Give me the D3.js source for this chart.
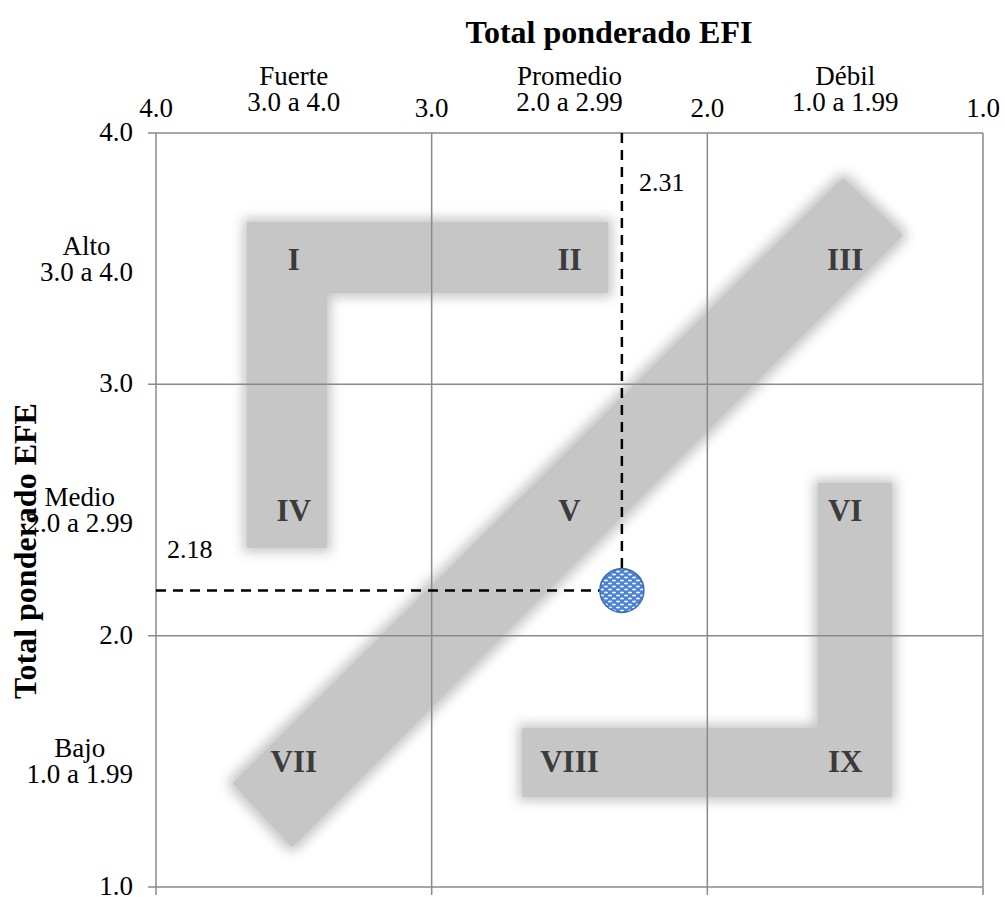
<!DOCTYPE html>
<html>
<head>
<meta charset="utf-8">
<script src="https://cdn.jsdelivr.net/npm/d3@7"></script>
<style>
  html, body { margin: 0; padding: 0; background: #fff; }
  svg { display: block; }
</style>
</head>
<body>
<svg id="chart" width="1005" height="897" font-family="'Liberation Serif', 'Times New Roman', serif"></svg>
<script>
// Matriz interna-externa (IE): EFI en el eje horizontal, EFE en el vertical
const axisTicks = [4, 3, 2, 1];
const bandMids = [3.5, 2.5, 1.5];
const efiBandNames = ["Fuerte", "Promedio", "Débil"];
const efiBandRanges = ["3.0 a 4.0", "2.0 a 2.99", "1.0 a 1.99"];
const efeBandNames = ["Alto", "Medio", "Bajo"];
const efeBandRanges = ["3.0 a 4.0", "2.0 a 2.99", "1.0 a 1.99"];
const cellLabels = ["I", "II", "III", "IV", "V", "VI", "VII", "VIII", "IX"];

// Zonas de estrategia (vértices en [EFI, EFE])
const zoneGrow = [[3.67, 3.646], [2.36, 3.646], [2.36, 3.363], [3.38, 3.363], [3.38, 2.349], [3.67, 2.349]];
const zoneHold = [[1.508, 3.821], [1.291, 3.594], [3.507, 1.159], [3.721, 1.413]];
const zoneHarvest = [[1.599, 2.607], [1.330, 2.607], [1.330, 1.358], [2.672, 1.358], [2.672, 1.632], [1.599, 1.632]];

// Resultado de la empresa
const efiScore = 2.31;
const efeScore = 2.18;

const svg = d3.select("#chart");
const x = d3.scaleLinear().domain([4, 1]).range([156, 983]);
const y = d3.scaleLinear().domain([1, 4]).range([887, 133]);

const defs = svg.append("defs");
const soft = defs.append("filter").attr("id", "soft")
  .attr("x", "-20%").attr("y", "-20%").attr("width", "140%").attr("height", "140%");
soft.append("feMorphology").attr("in", "SourceAlpha").attr("operator", "dilate").attr("radius", 4).attr("result", "d");
soft.append("feGaussianBlur").attr("in", "d").attr("stdDeviation", 6).attr("result", "b");
soft.append("feFlood").attr("flood-color", "#c6c6c6");
soft.append("feComposite").attr("in2", "b").attr("operator", "in").attr("result", "g");
const merge = soft.append("feMerge");
merge.append("feMergeNode").attr("in", "g");
merge.append("feMergeNode").attr("in", "SourceGraphic");

const pat = defs.append("pattern").attr("id", "dots")
  .attr("patternUnits", "userSpaceOnUse").attr("width", 8).attr("height", 6);
pat.append("rect").attr("width", 8).attr("height", 6).attr("fill", "#4a82d4");
pat.append("ellipse").attr("cx", 2).attr("cy", 1.5).attr("rx", 2.2).attr("ry", 1).attr("fill", "#eef3fc");
pat.append("ellipse").attr("cx", 6).attr("cy", 4.5).attr("rx", 2.2).attr("ry", 1).attr("fill", "#eef3fc");

// Zonas sombreadas
const line = d3.line().x(d => x(d[0])).y(d => y(d[1])).curve(d3.curveLinearClosed);
svg.append("g").selectAll("path")
  .data([zoneGrow, zoneHold, zoneHarvest])
  .join("path")
  .attr("d", line)
  .attr("fill", "#c6c6c6")
  .attr("filter", "url(#soft)");

// Cuadrícula y marco
const grid = svg.append("g").attr("stroke", "#8a8a8a").attr("stroke-width", 1.5);
grid.selectAll("line.v").data(axisTicks).join("line")
  .attr("x1", d => x(d)).attr("x2", d => x(d))
  .attr("y1", y(4)).attr("y2", y(1) + 8);
grid.selectAll("line.h").data(axisTicks).join("line")
  .attr("y1", d => y(d)).attr("y2", d => y(d))
  .attr("x1", x(4) - 8).attr("x2", x(1));

// Etiquetas de celdas
const cells = [];
bandMids.forEach((ey, r) => bandMids.forEach((ex, c) => cells.push({ ex, ey, label: cellLabels[r * 3 + c] })));
svg.append("g").selectAll("text").data(cells).join("text")
  .attr("x", d => x(d.ex)).attr("y", d => y(d.ey) + 11)
  .attr("text-anchor", "middle")
  .attr("font-size", 31).attr("font-weight", "bold").attr("fill", "#3b3b3b")
  .text(d => d.label);

// Eje superior (EFI)
const topAxis = svg.append("g").attr("font-size", 27).attr("text-anchor", "middle").attr("fill", "#000");
topAxis.selectAll("text.t").data(axisTicks).join("text").attr("class", "t")
  .attr("x", d => x(d)).attr("y", 117).text(d => d.toFixed(1));
topAxis.selectAll("text.n").data(bandMids).join("text").attr("class", "n")
  .attr("x", d => x(d)).attr("y", 85).text((d, i) => efiBandNames[i]);
topAxis.selectAll("text.r").data(bandMids).join("text").attr("class", "r")
  .attr("x", d => x(d)).attr("y", 111).text((d, i) => efiBandRanges[i]);

// Eje izquierdo (EFE): valores alineados a la derecha, rangos en bloque centrado
const leftAxis = svg.append("g").attr("font-size", 27).attr("fill", "#000");
leftAxis.selectAll("text.t").data(axisTicks).join("text").attr("class", "t")
  .attr("text-anchor", "end")
  .attr("x", 133).attr("y", d => y(d) + 8).text(d => d.toFixed(1));
bandMids.forEach((d, i) => {
  const block = leftAxis.append("text").attr("text-anchor", "middle");
  const t1 = block.append("tspan").attr("y", y(d) - 4).text(efeBandNames[i]);
  const t2 = block.append("tspan").attr("y", y(d) + 22).text(efeBandRanges[i]);
  const w = Math.max(t1.node().getComputedTextLength(), t2.node().getComputedTextLength());
  t1.attr("x", 133 - w / 2);
  t2.attr("x", 133 - w / 2);
});

// Títulos
svg.append("text").attr("x", 609).attr("y", 43).attr("text-anchor", "middle")
  .attr("font-size", 32).attr("font-weight", "bold").text("Total ponderado EFI");
svg.append("text").attr("transform", "translate(36,551) rotate(-90)").attr("text-anchor", "middle")
  .attr("font-size", 32).attr("font-weight", "bold").text("Total ponderado EFE");

// Líneas de referencia y punto
const px = x(efiScore), py = y(efeScore);
const guides = svg.append("g").attr("stroke", "#000").attr("stroke-width", 2.5).attr("stroke-dasharray", "10,7");
guides.append("line").attr("x1", px).attr("x2", px).attr("y1", y(4)).attr("y2", py);
guides.append("line").attr("x1", x(4)).attr("x2", px).attr("y1", py).attr("y2", py);

svg.append("circle").attr("cx", px).attr("cy", py).attr("r", 22)
  .attr("fill", "url(#dots)").attr("stroke", "#3b6db4").attr("stroke-width", 1.5);

svg.append("text").attr("x", px + 17).attr("y", y(4) + 58).attr("font-size", 26).text(efiScore.toFixed(2));
svg.append("text").attr("x", x(4) + 11).attr("y", py - 32).attr("font-size", 26).text(efeScore.toFixed(2));
</script>
</body>
</html>
